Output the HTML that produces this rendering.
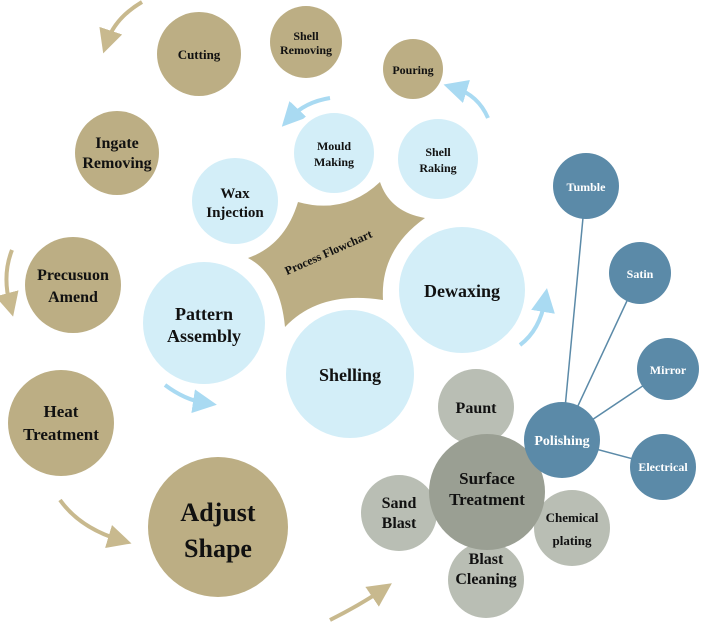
<!DOCTYPE html>
<html><head><meta charset="utf-8"><style>
body{margin:0;background:#fff}
svg{display:block}
text{font-family:"Liberation Serif",serif;font-weight:bold;text-anchor:middle;fill:#111}
text.w{fill:#fff}
</style></head><body>
<svg width="703" height="626" viewBox="0 0 703 626" xmlns="http://www.w3.org/2000/svg">
<defs>
<marker id="ga" markerWidth="6" markerHeight="6" refX="3" refY="3" orient="auto"><path d="M0,0 L6,3 L0,6 Z" fill="#c8b98e"/></marker>
<marker id="ba" markerWidth="6" markerHeight="6" refX="3" refY="3" orient="auto"><path d="M0,0 L6,3 L0,6 Z" fill="#a9daf2"/></marker>
</defs>
<g fill="none" stroke-width="4">
<path d="M142,2 Q115,18 107,42" stroke="#c8b98e" marker-end="url(#ga)"/>
<path d="M12,250 Q2,275 10,305" stroke="#c8b98e" marker-end="url(#ga)"/>
<path d="M60,500 Q80,528 120,540" stroke="#c8b98e" marker-end="url(#ga)"/>
<path d="M330,620 Q360,605 382,590" stroke="#c8b98e" marker-end="url(#ga)"/>
<path d="M330,98 Q305,102 290,118" stroke="#a9daf2" marker-end="url(#ba)"/>
<path d="M488,118 Q478,95 455,88" stroke="#a9daf2" marker-end="url(#ba)"/>
<path d="M520,345 Q540,330 545,300" stroke="#a9daf2" marker-end="url(#ba)"/>
<path d="M165,385 Q185,400 205,403" stroke="#a9daf2" marker-end="url(#ba)"/>
</g>
<g stroke="#5b8aa8" stroke-width="1.5">
<line x1="562" y1="440" x2="586" y2="186"/>
<line x1="562" y1="440" x2="640" y2="273"/>
<line x1="562" y1="440" x2="668" y2="369"/>
<line x1="562" y1="440" x2="663" y2="467"/>
</g>
<path d="M248,258 Q285,245 298,202 Q345,215 380,182 Q390,212 425,218 Q380,250 383,300 Q320,290 285,327 Q280,275 248,258 Z" fill="#bcae84"/>
<g fill="#bcae84">
<circle cx="199" cy="54" r="42"/>
<circle cx="306" cy="42" r="36"/>
<circle cx="413" cy="69" r="30"/>
<circle cx="117" cy="153" r="42"/>
<circle cx="73" cy="285" r="48"/>
<circle cx="61" cy="423" r="53"/>
<circle cx="218" cy="527" r="70"/>
</g>
<g fill="#d3eef8" stroke="#fff" stroke-width="6">
<circle cx="235" cy="201" r="46"/>
<circle cx="334" cy="153" r="43"/>
<circle cx="438" cy="159" r="43"/>
<circle cx="204" cy="323" r="64"/>
<circle cx="350" cy="374" r="67"/>
<circle cx="462" cy="290" r="66"/>
</g>
<g fill="#b9beb4">
<circle cx="476" cy="407" r="38"/>
<circle cx="399" cy="513" r="38"/>
<circle cx="486" cy="580" r="38"/>
<circle cx="572" cy="528" r="38"/>
</g>
<circle cx="487" cy="492" r="58" fill="#9a9f93"/>
<g fill="#5b8aa8">
<circle cx="586" cy="186" r="33"/>
<circle cx="640" cy="273" r="31"/>
<circle cx="668" cy="369" r="31"/>
<circle cx="663" cy="467" r="33"/>
<circle cx="562" cy="440" r="38"/>
</g>
<g font-size="13">
<text x="199" y="59">Cutting</text>
<text x="306" y="40" font-size="12">Shell</text><text x="306" y="54" font-size="12">Removing</text>
<text x="413" y="74" font-size="12">Pouring</text>
<text x="117" y="148" font-size="16">Ingate</text><text x="117" y="168" font-size="16">Removing</text>
<text x="73" y="280" font-size="16">Precusuon</text><text x="73" y="302" font-size="16">Amend</text>
<text x="61" y="417" font-size="17">Heat</text><text x="61" y="440" font-size="17">Treatment</text>
<text x="218" y="521" font-size="26">Adjust</text><text x="218" y="557" font-size="26">Shape</text>
<text x="235" y="198" font-size="15">Wax</text><text x="235" y="217" font-size="15">Injection</text>
<text x="334" y="150" font-size="12">Mould</text><text x="334" y="166" font-size="12">Making</text>
<text x="438" y="156" font-size="12">Shell</text><text x="438" y="172" font-size="12">Raking</text>
<text x="204" y="320" font-size="18">Pattern</text><text x="204" y="342" font-size="18">Assembly</text>
<text x="350" y="381" font-size="18">Shelling</text>
<text x="462" y="297" font-size="18">Dewaxing</text>
<text x="330" y="256" font-size="12" transform="rotate(-24 330 256)">Process Flowchart</text>
<text x="476" y="413" font-size="16">Paunt</text>
<text x="399" y="508" font-size="16">Sand</text><text x="399" y="528" font-size="16">Blast</text>
<text x="486" y="564" font-size="16">Blast</text><text x="486" y="584" font-size="16">Cleaning</text>
<text x="572" y="522" font-size="13">Chemical</text><text x="572" y="545" font-size="13">plating</text>
<text x="487" y="484" font-size="17">Surface</text><text x="487" y="505" font-size="17">Treatment</text>
<text class="w" x="562" y="445" font-size="14">Polishing</text>
<text class="w" x="586" y="191" font-size="12">Tumble</text>
<text class="w" x="640" y="278" font-size="12">Satin</text>
<text class="w" x="668" y="374" font-size="12">Mirror</text>
<text class="w" x="663" y="471" font-size="12">Electrical</text>
</g>
</svg>
</body></html>
